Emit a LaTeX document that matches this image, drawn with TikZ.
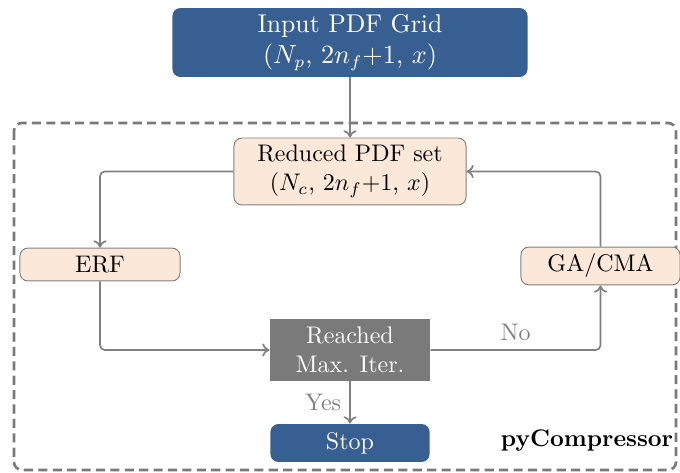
\documentclass[tikz,border=0pt]{standalone}
\usepackage{tikz}
\usetikzlibrary{arrows.meta,positioning}
\definecolor{darkblue}{HTML}{375F91}
\definecolor{peach}{HTML}{FCE8D8}
\definecolor{edge}{HTML}{808080}
\definecolor{framegray}{HTML}{7A7A7A}
\tikzset{
  bluebox/.style={fill=darkblue,text=white,rounded corners=3.3pt,align=center,inner sep=1pt},
  peachbox/.style={fill=peach,draw=edge,line width=0.4pt,rounded corners=3.3pt,align=center,inner sep=1pt},
  greybox/.style={fill=framegray,text=white,align=center,inner sep=1pt},
  flow/.style={edge,line width=0.7pt,->,rounded corners=2pt},
  lbl/.style={text=edge}
}

\begin{document}
\begin{tikzpicture}[x=0.4167pt,y=-0.4167pt,>={To[length=3pt,width=5.5pt]}]
\useasboundingbox (0,0) rectangle (680,473);
% outer frame
\draw[framegray,line width=1.1pt,dash pattern=on 3.8pt off 2.2pt,rounded corners=3.3pt] (14,123) rectangle (676,470);

\node[bluebox,minimum width=148pt,minimum height=28.7pt,font=\fontsize{10.7}{13}\selectfont] (input) at (350,42.5)
  {Input PDF Grid\\$(N_p$, $2n_f{+}1$, $x)$};
\node[peachbox,minimum width=96.7pt,minimum height=27.9pt] (reduced) at (350,171.5)
  {Reduced PDF set\\$(N_c$, $2n_f{+}1$, $x)$};
\node[peachbox,minimum width=66.7pt,minimum height=13.7pt] (erf) at (100,264.5) {ERF};
\node[peachbox,minimum width=66.3pt,minimum height=15.8pt] (ga) at (600.5,266) {GA/CMA};
\node[greybox,minimum width=66.7pt,minimum height=25.8pt] (reached) at (350,350)
  {Reached\\Max. Iter.};
\node[bluebox,minimum width=66.3pt,minimum height=15.8pt] (stop) at (350,443) {Stop};
\node[font=\bfseries] (tool) at (587,441) {pyCompressor};

% connectors
\draw[flow] (input) -- (reduced);
\draw[flow] (reduced.west) -| (erf.north);
\draw[flow] (erf.south) |- (reached.west);
\draw[flow] (reached.east) -| node[lbl,pos=0.25,above] {No} (ga.south);
\draw[flow] (ga.north) |- (reduced.east);
\draw[flow] (reached) -- node[lbl,left] {Yes} (stop);
\end{tikzpicture}
\end{document}
